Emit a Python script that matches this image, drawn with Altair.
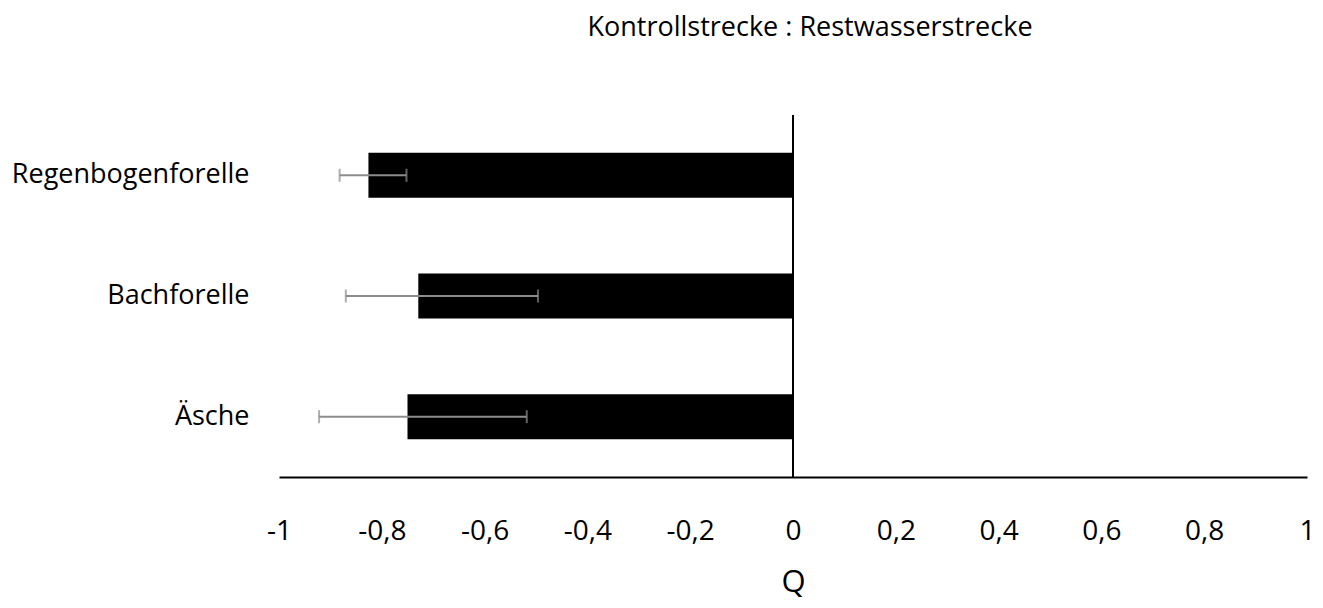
import altair as alt
import pandas as pd

species = ["Regenbogenforelle", "Bachforelle", "Äsche"]
q_values = [-0.826, -0.729, -0.750]
err_low = [-0.882, -0.870, -0.922]
err_high = [-0.752, -0.496, -0.518]

df = pd.DataFrame({"art": species, "q": q_values, "lo": err_low, "hi": err_high})

FONT = "Open Sans"

x_scale = alt.Scale(domain=[-1, 1], nice=False, zero=False)
y_enc = alt.Y("art:N", sort=species, title=None,
              scale=alt.Scale(paddingInner=0.62, paddingOuter=0.31),
              axis=alt.Axis(domain=False, ticks=False, labelPadding=30, labelFontSize=27,
                            labelLimit=0, labelFont=FONT, labelColor="#000"))

bars = alt.Chart(df).mark_bar(color="black", size=45).encode(
    x=alt.X("q:Q", scale=x_scale, title="Q",
            axis=alt.Axis(values=[-1, -0.8, -0.6, -0.4, -0.2, 0, 0.2, 0.4, 0.6, 0.8, 1],
                          labelExpr="replace(replace(format(datum.value, '.1~f'), '−', '-'), '.', ',')",
                          grid=False, ticks=False, domainColor="#000", domainWidth=2,
                          labelPadding=40, labelFontSize=28, labelFont=FONT, labelColor="#000",
                          labelOverlap=False, labelFlush=False,
                          titleFontSize=31, titleFont=FONT, titleFontWeight="normal",
                          titleColor="#000", titlePadding=22)),
    x2=alt.datum(0),
    y=y_enc,
)

rules = alt.Chart(df).mark_rule(color="#8c8c8c", strokeWidth=2).encode(
    x=alt.X("lo:Q", scale=x_scale),
    x2="hi:Q",
    y=alt.Y("art:N", sort=species),
)
cap_lo = alt.Chart(df).mark_tick(color="#8c8c8c", thickness=2, size=13).encode(
    x=alt.X("lo:Q", scale=x_scale), y=alt.Y("art:N", sort=species))
cap_hi = alt.Chart(df).mark_tick(color="#8c8c8c", thickness=2, size=13).encode(
    x=alt.X("hi:Q", scale=x_scale), y=alt.Y("art:N", sort=species))

zero = alt.Chart(pd.DataFrame({"z": [0]})).mark_rule(color="black", strokeWidth=2).encode(
    x=alt.X("z:Q", scale=x_scale))

chart = alt.layer(bars, rules, cap_lo, cap_hi, zero).properties(
    width=1028, height=362,
    title=alt.TitleParams("Kontrollstrecke : Restwasserstrecke", anchor="middle", dx=17,
                          fontSize=27, font=FONT, fontWeight="normal", color="#000", offset=72),
    padding={"left": 271, "top": 107, "right": 8, "bottom": 122},
    autosize=alt.AutoSizeParams(type="none"),
).configure_view(stroke=None)

chart.save("out.html", embed_options={"renderer": "svg", "actions": False})
